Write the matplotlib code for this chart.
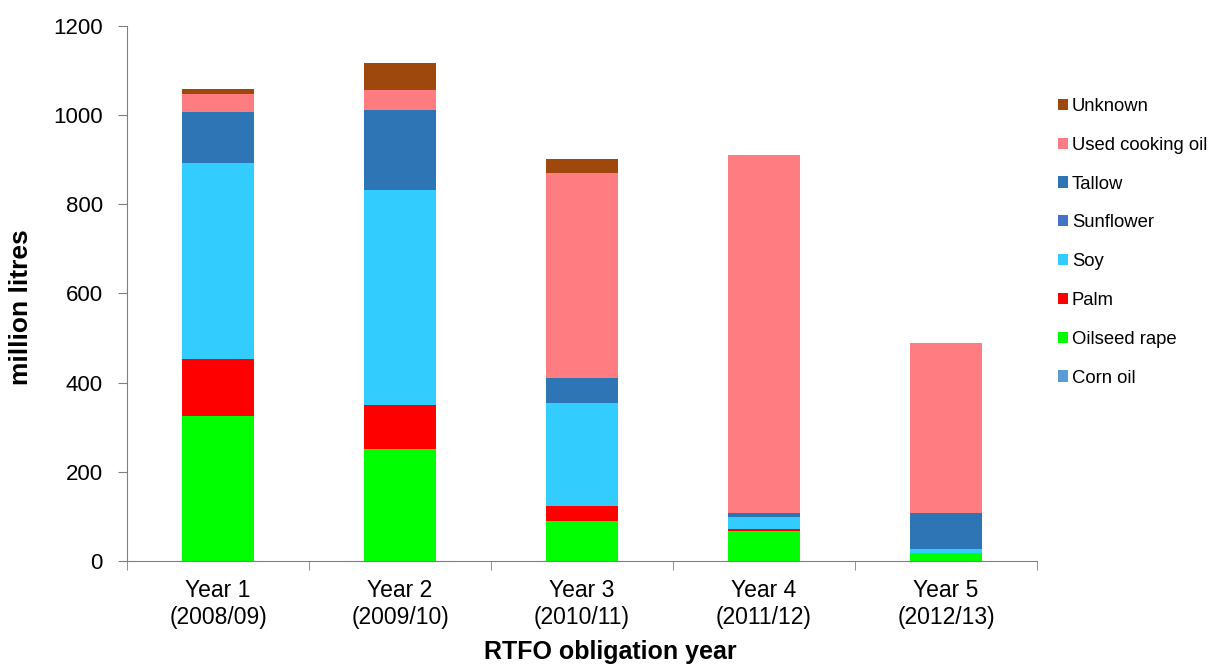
import matplotlib
matplotlib.use("Agg")
import matplotlib.pyplot as plt
import numpy as np

plt.rcParams['font.family'] = ['Liberation Sans', 'DejaVu Sans']

years = ['Year 1\n(2008/09)', 'Year 2\n(2009/10)', 'Year 3\n(2010/11)',
         'Year 4\n(2011/12)', 'Year 5\n(2012/13)']

# stacked from bottom to top
corn_oil = [0, 0, 0, 0, 0]
oilseed_rape = [325, 251, 90, 68, 18]
palm = [128, 99, 33, 4, 1]
soy = [440, 482, 231, 27, 9]
sunflower = [0, 0, 0, 0, 0]
tallow = [114, 180, 56, 9, 79]
used_cooking_oil = [40, 45, 460, 803, 382]
unknown = [12, 60, 32, 0, 0]

series = [
    ('Corn oil', corn_oil, '#5B9BD5'),
    ('Oilseed rape', oilseed_rape, '#00FF00'),
    ('Palm', palm, '#FF0000'),
    ('Soy', soy, '#33CCFF'),
    ('Sunflower', sunflower, '#4472C4'),
    ('Tallow', tallow, '#2E75B6'),
    ('Used cooking oil', used_cooking_oil, '#FF7C80'),
    ('Unknown', unknown, '#9E480E'),
]

fig = plt.figure(figsize=(12.1, 6.64), dpi=100)
ax = fig.add_axes([0.105, 0.155, 0.752, 0.806])

x = np.arange(len(years))
bottom = np.zeros(len(years))
handles = []
for name, vals, col in series:
    b = ax.bar(x, vals, 0.4, bottom=bottom, color=col, label=name, linewidth=0)
    handles.append(b)
    bottom += np.array(vals)

ax.set_xlim(-0.5, len(years) - 0.5)
ax.set_ylim(0, 1200)
ax.set_yticks(range(0, 1201, 200))
ax.set_xticks(x)
ax.set_xticklabels(years, fontsize=16.5)
ax.set_xticks(np.arange(-0.5, len(years), 1), minor=True)
ax.tick_params(axis='x', which='major', length=0, pad=13)
ax.tick_params(axis='x', which='minor', length=6.5, color='#808080', direction='out')
ax.tick_params(axis='y', labelsize=16, length=6.5, pad=11, color='#808080', direction='out')

for s in ['top', 'right']:
    ax.spines[s].set_visible(False)
for s in ['left', 'bottom']:
    ax.spines[s].set_color('#808080')

ax.set_ylabel('million litres', fontsize=19, fontweight='bold')
ax.set_xlabel('RTFO obligation year', fontsize=18, fontweight='bold')
ax.yaxis.set_label_coords(-0.1033, 0.475)
ax.xaxis.set_label_coords(0.531, -0.148)

ax.legend(handles[::-1], [s[0] for s in series][::-1], loc='upper left',
          bbox_to_anchor=(1058 / 1210, 1 - 98 / 664), bbox_transform=fig.transFigure,
          frameon=False, fontsize=13.3, borderpad=0, borderaxespad=0,
          handlelength=0.55, handleheight=0.55, handletextpad=0.2,
          labelspacing=1.18)

fig.savefig('out.png', dpi=100)
